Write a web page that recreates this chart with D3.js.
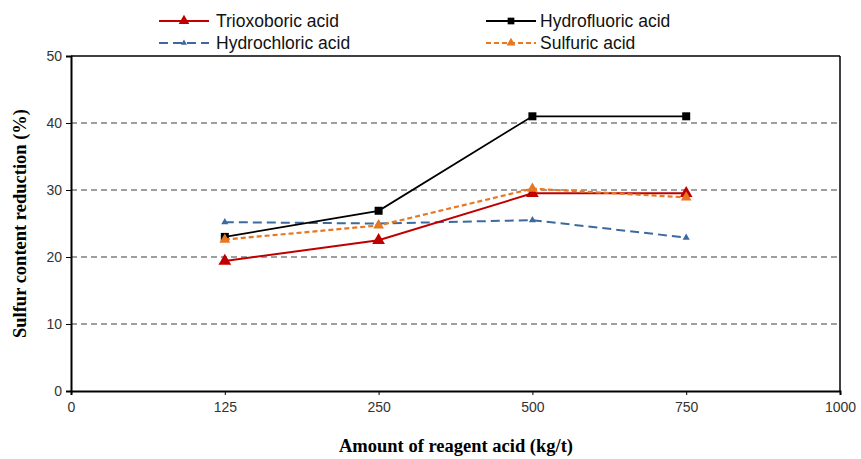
<!DOCTYPE html>
<html><head><meta charset="utf-8">
<script src="https://cdn.jsdelivr.net/npm/d3@7"></script>
<style>body{margin:0;background:#fff}svg{display:block}</style>
</head><body>
<svg id="c" width="861" height="459"></svg>
<script>
const xTickLabels = ["0","125","250","500","750","1000"];
const categories = ["125","250","500","750"];
const trioxoboric = [19.4, 22.5, 29.5, 29.5];
const hydrofluoric = [23.0, 26.9, 41.0, 41.0];
const hydrochloric = [25.2, 25.0, 25.5, 22.9];
const sulfuric = [22.6, 24.7, 30.2, 28.9];
const yTicks = [0,10,20,30,40,50];

const svg = d3.select("#c");
const L=71, R=840, T=56, B=391;
const x = d3.scalePoint().domain(xTickLabels).range([L,R]).padding(0);
const y = d3.scaleLinear().domain([0,50]).range([B,T]);

// grid
svg.append("g").selectAll("line").data([10,20,30,40]).join("line")
  .attr("x1",L).attr("x2",R).attr("y1",d=>y(d)).attr("y2",d=>y(d))
  .attr("stroke","#808080").attr("stroke-width",1.3).attr("stroke-dasharray","6,4");

// frame top/right
svg.append("line").attr("x1",L).attr("x2",R).attr("y1",T).attr("y2",T).attr("stroke","#000").attr("stroke-width",1.5);
svg.append("line").attr("x1",R).attr("x2",R).attr("y1",T).attr("y2",B).attr("stroke","#000").attr("stroke-width",1.5);

// axes
const ya = svg.append("g").attr("transform",`translate(${L},0)`)
  .call(d3.axisLeft(y).tickValues(yTicks).tickSize(5).tickPadding(4));
ya.select(".domain").attr("stroke","#000").attr("stroke-width",2);
ya.selectAll(".tick line").attr("stroke","#000");
ya.selectAll("text").attr("font-family","Liberation Sans, Arial, sans-serif").attr("font-size",14).attr("fill","#333");

const xa = svg.append("g").attr("transform",`translate(0,${B})`)
  .call(d3.axisBottom(x).tickSize(4).tickPadding(7));
xa.select(".domain").attr("stroke","#000").attr("stroke-width",2);
xa.selectAll(".tick line").attr("stroke","#000");
xa.selectAll("text").attr("font-family","Liberation Sans, Arial, sans-serif").attr("font-size",14).attr("fill","#333");

// titles
svg.append("text").attr("x",456).attr("y",452).attr("text-anchor","middle")
  .attr("font-family","Liberation Serif, Times New Roman, serif").attr("font-weight","bold").attr("font-size",18.5)
  .text("Amount of reagent acid (kg/t)");
svg.append("text").attr("transform",`translate(26,${(T+B)/2}) rotate(-90)`).attr("text-anchor","middle")
  .attr("font-family","Liberation Serif, Times New Roman, serif").attr("font-weight","bold").attr("font-size",18.5)
  .text("Sulfur content reduction (%)");

const series = [
  {name:"Hydrochloric acid", values:hydrochloric, color:"#3d6a9e", dash:"9,5", width:2, marker:"tri", size:22},
  {name:"Trioxoboric acid", values:trioxoboric, color:"#c00000", dash:null, width:2, marker:"tri", size:70},
  {name:"Hydrofluoric acid", values:hydrofluoric, color:"#000", dash:null, width:1.8, marker:"sq", size:64},
  {name:"Sulfuric acid", values:sulfuric, color:"#e87722", dash:"5,3", width:2.2, marker:"star", size:50},
];
const sym = m => m==="tri"?d3.symbolTriangle: m==="sq"?d3.symbolSquare: d3.symbolTriangle;
const line = d3.line().x((d,i)=>x(categories[i])).y(d=>y(d));
series.forEach(s=>{
  svg.append("path").datum(s.values).attr("d",line).attr("fill","none")
    .attr("stroke",s.color).attr("stroke-width",s.width).attr("stroke-dasharray",s.dash);
  svg.append("g").selectAll("path").data(s.values).join("path")
    .attr("transform",(d,i)=>`translate(${x(categories[i])},${y(d)})`)
    .attr("d",d3.symbol().type(sym(s.marker)).size(s.size)).attr("fill",s.color);
});

// legend
const leg = [
  {s:series[1], x:159, y:21, tx:216},
  {s:series[2], x:486, y:21, tx:540},
  {s:series[0], x:159, y:43, tx:216},
  {s:series[3], x:486, y:43, tx:540},
];
leg.forEach(l=>{
  const s=l.s;
  svg.append("line").attr("x1",l.x).attr("x2",l.x+50).attr("y1",l.y).attr("y2",l.y)
    .attr("stroke",s.color).attr("stroke-width",s.width).attr("stroke-dasharray",s.dash);
  svg.append("path").attr("transform",`translate(${l.x+25},${l.y})`)
    .attr("d",d3.symbol().type(sym(s.marker)).size(s.size*0.7)).attr("fill",s.color);
  svg.append("text").attr("x",l.tx).attr("y",l.y+6)
    .attr("font-family","Liberation Sans, Arial, sans-serif").attr("font-size",17.5).attr("fill","#111")
    .text(s.name);
});
</script>
</body></html>
